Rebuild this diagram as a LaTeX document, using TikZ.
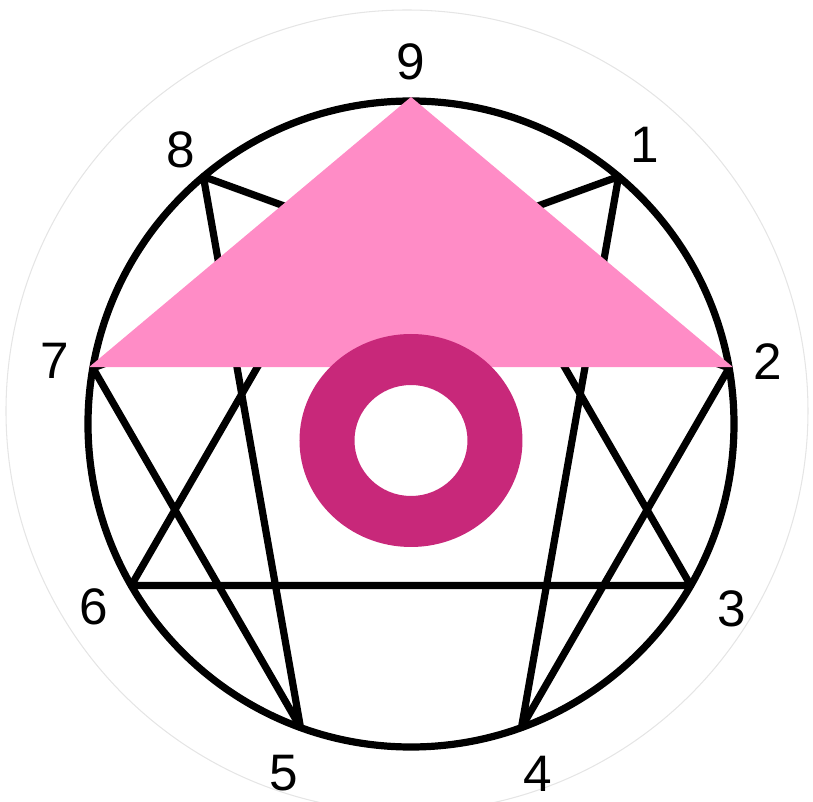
\documentclass[tikz,border=0pt]{standalone}
\usepackage{fontspec}
\setmainfont{Liberation Sans}
\usepackage{tikz}
\usetikzlibrary{calc}
\usepackage{xcolor}
\definecolor{rosepale}{HTML}{FF8CC6}
\definecolor{rosefonce}{HTML}{C8287A}

\begin{document}
\begin{tikzpicture}[
    trait/.style={black, line width=2.05pt, line join=round},
    chiffre/.style={font=\fontsize{14.6}{17}\selectfont, inner sep=0pt}]
    \useasboundingbox (-4.11,-3.78) rectangle (4.02,4.24);
    % Cercle exterieur pale
    \draw[gray!20, line width=0.3pt] (-0.04,0.13) circle (4.01);
    % Cercle principal
    \draw[trait] (0,0) circle (3.23);
    % Points et chiffres
    \foreach \n/\a/\r in {9/90/3.62, 1/50/3.64, 2/10/3.62, 3/-30/3.70, 4/-70/3.72,
                          5/-110/3.72, 6/-150/3.66, 7/170/3.62, 8/130/3.58} {
        \coordinate (p\n) at (\a:3.23);
        \node[chiffre] (l\n) at (\a:\r) {\n};
    }
    % Triangle 9-3-6
    \draw[trait] (p9) -- (p3) -- (p6) -- cycle;
    % Hexade 1-4-2-8-5-7
    \draw[trait] (p1) -- (p4) -- (p2) -- (p8) -- (p5) -- (p7) -- cycle;
    % Triangle rose 9-7-2
    \coordinate (t9) at (90:3.27);
    \coordinate (t7) at (170:3.27);
    \coordinate (t2) at (10:3.27);
    \fill[rosepale] (t9) -- (t7) -- (t2) -- cycle;
    % Anneau
    \fill[rosefonce, even odd rule] (0,-0.165) ellipse (1.115 and 1.065)
                                    (0,-0.165) ellipse (0.565 and 0.555);
\end{tikzpicture}
\end{document}
